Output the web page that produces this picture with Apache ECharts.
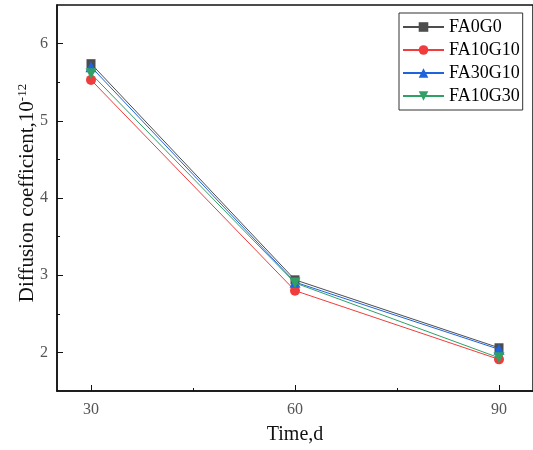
<!DOCTYPE html>
<html>
<head>
<meta charset="utf-8">
<script src="https://cdn.jsdelivr.net/npm/echarts@6/dist/echarts.min.js"></script>
<style>html,body{margin:0;padding:0;background:#fff}#c{width:533px;height:450px}</style>
</head>
<body>
<div id="c"></div>
<script>
const days = [30, 60, 90];
const seriesNames = ['FA0G0', 'FA10G10', 'FA30G10', 'FA10G30'];
const FA0G0 = [5.74, 2.94, 2.06];
const FA10G10 = [5.53, 2.80, 1.91];
const FA30G10 = [5.70, 2.91, 2.04];
const FA10G30 = [5.61, 2.90, 1.93];
const xTicks = [30, 60, 90];
const xMinorTicks = [45, 75];
const yTicks = [2, 3, 4, 5, 6];
const yMinorTicks = [2.5, 3.5, 4.5, 5.5];

const FONT = "'Liberation Serif', 'Times New Roman', serif";
const colors = ['#4d4d4d', '#f03c3c', '#1f63dd', '#30a065'];
const symbols = ['rect', 'circle', 'triangle', 'triangle'];
const rot = [0, 0, 0, 180];
const sizes = [9, 10, 11, 11];
const vals = [FA0G0, FA10G10, FA30G10, FA10G30];

const chart = echarts.init(document.getElementById('c'));
chart.setOption({
  backgroundColor: '#fff',
  animation: false,
  grid: { left: 57, top: 5, right: -1, bottom: 58, show: true, borderColor: '#111', borderWidth: 1.5 },
  legend: {
    orient: 'vertical', left: 399, top: 13,
    padding: [5, 3, 5, 3],
    borderColor: '#333', borderWidth: 1,
    itemWidth: 41, itemHeight: 12, itemGap: 5,
    textStyle: { fontFamily: FONT, fontSize: 18, color: '#000' },
    data: seriesNames
  },
  xAxis: [{
    type: 'value', min: 25, max: 95,
    name: 'Time,d', nameLocation: 'middle', nameGap: 34, nameMoveOverlap: false,
    nameTextStyle: { fontFamily: FONT, fontSize: 20, color: '#111' },
    axisLine: { lineStyle: { color: '#111', width: 1.5 } },
    axisTick: { inside: true, length: 6, customValues: xTicks, lineStyle: { color: '#111', width: 1 } },
    axisLabel: { customValues: xTicks, margin: 11, fontFamily: FONT, fontSize: 16, color: '#555' },
    splitLine: { show: false }
  }, {
    type: 'value', min: 25, max: 95, position: 'bottom',
    axisLine: { show: false },
    axisTick: { inside: true, length: 3, customValues: xMinorTicks, lineStyle: { color: '#111', width: 1 } },
    axisLabel: { show: false },
    splitLine: { show: false }
  }],
  yAxis: [{
    type: 'value', min: 1.5, max: 6.5,
    name: 'Diffusion coefficient,10{sup|-12}', nameLocation: 'middle', nameGap: 18, nameRotate: 90, nameMoveOverlap: false,
    nameTextStyle: {
      fontFamily: FONT, fontSize: 21, color: '#111', padding: [0, 0, 0, 10],
      rich: { sup: { fontFamily: FONT, fontSize: 13, color: '#111', verticalAlign: 'top', padding: [0, 0, 10, 0] } }
    },
    axisLine: { show: true, lineStyle: { color: '#111', width: 1.5 } },
    axisTick: { show: true, inside: true, length: 6, customValues: yTicks, lineStyle: { color: '#111', width: 1 } },
    axisLabel: { customValues: yTicks, margin: 9, fontFamily: FONT, fontSize: 16, color: '#555' },
    splitLine: { show: false }
  }, {
    type: 'value', min: 1.5, max: 6.5, position: 'left', offset: 0,
    axisLine: { show: false },
    axisTick: { show: true, inside: true, length: 3, customValues: yMinorTicks, lineStyle: { color: '#111', width: 1 } },
    axisLabel: { show: false },
    splitLine: { show: false }
  }],
  series: seriesNames.map((n, i) => ({
    name: n, type: 'line',
    data: days.map((d, j) => [d, vals[i][j]]),
    symbol: symbols[i], symbolSize: sizes[i], symbolRotate: rot[i],
    showAllSymbol: true,
    lineStyle: { color: colors[i], width: 1 },
    itemStyle: { color: colors[i] },
    z: 2 + i
  }))
});
</script>
</body>
</html>
